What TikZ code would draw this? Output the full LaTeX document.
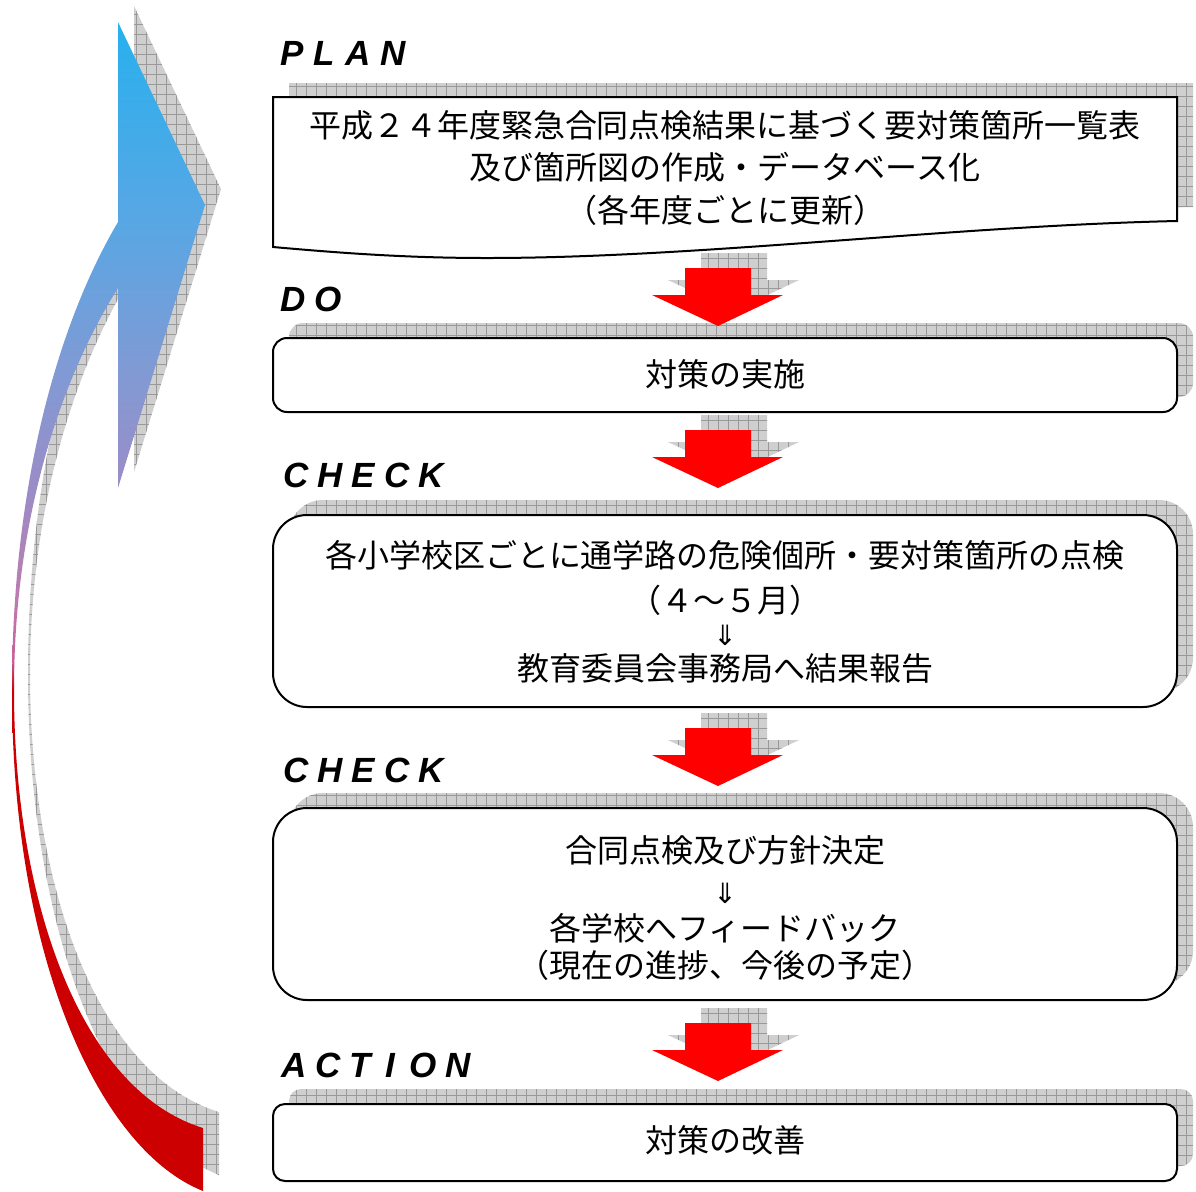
\documentclass[tikz,border=0pt]{standalone}
\usepackage{fontspec}
\newfontfamily\jp{Noto Sans CJK JP}
\newfontfamily\labfont{Liberation Sans}
\newfontfamily\symfont{DejaVu Sans}
\definecolor{arrowred}{HTML}{FF0000}
\definecolor{ca}{HTML}{CC0000}
\definecolor{cb}{HTML}{C8609A}
\definecolor{cc}{HTML}{BC7CB0}
\definecolor{cd}{HTML}{998DC8}
\definecolor{ce}{HTML}{8399D3}
\definecolor{cf}{HTML}{58A7E4}
\definecolor{cg}{HTML}{28B0EE}
\definecolor{gridgray}{HTML}{999999}
\pgfdeclareverticalshading{bigarrowshade}{100bp}{color(0bp)=(ca); color(46.4bp)=(ca); color(47.7bp)=(cb); color(50.3bp)=(cc); color(55.4bp)=(cd); color(59.7bp)=(ce); color(66.5bp)=(cf); color(75bp)=(cg); color(100bp)=(cg)}
\newcommand\lk{\kern4.5pt}
\newcommand\lkw{\kern7pt}
\tikzset{
  shadowfill/.style={fill=gray!38, path picture={\draw[gridgray, line width=0.3pt] (path picture bounding box.south west) grid[step=5pt] (path picture bounding box.north east);}},
  boxline/.style={draw=black, line width=1pt, fill=white},
  jtext/.style={font=\jp\fontsize{16pt}{20pt}\selectfont, inner sep=0pt, anchor=center},
  symtext/.style={font=\symfont\fontsize{14pt}{16pt}\selectfont, inner sep=0pt, anchor=center},
  phase/.style={font=\labfont\bfseries\itshape\fontsize{17.5pt}{20pt}\selectfont, anchor=base west, inner sep=0pt},
  pics/downarr/.style={code={
    \fill[shadowfill] (-17,-15) -- (49,-15) -- (49,12) -- (81,12) -- (16,43) -- (-50,12) -- (-17,12) -- cycle;
    \fill[arrowred] (-33,0) -- (33,0) -- (33,27) -- (65,27) -- (0,58) -- (-66,27) -- (-33,27) -- cycle;
  }}
}
\begin{document}
\begin{tikzpicture}[x=0.5pt,y=-0.5pt]
\useasboundingbox (0,0) rectangle (1196,1191);
\fill[white] (0,0) rectangle (1196,1191);

% ---- big curved cycle arrow: shadow then arrow
\begin{scope}[shift={(16,-16)}]
\fill[shadowfill] (203,1191) .. controls (100,1150) and (12,960) .. (12,690) .. controls (12,480) and (60,320) .. (118,222) -- (118,22) -- (205,205) -- (118,488) -- (118,288) .. controls (60,380) and (14,520) .. (14,690) .. controls (14,900) and (80,1090) .. (203,1128) -- cycle;
\end{scope}
\shade[shading=bigarrowshade] (203,1191) .. controls (100,1150) and (12,960) .. (12,690) .. controls (12,480) and (60,320) .. (118,222) -- (118,22) -- (205,205) -- (118,488) -- (118,288) .. controls (60,380) and (14,520) .. (14,690) .. controls (14,900) and (80,1090) .. (203,1128) -- cycle;

% ---- box shadows
\begin{scope}[shift={(16,-14)}]
\fill[shadowfill] (273,97) -- (1177,97) -- (1177,221) .. controls (950,226) and (700,258) .. (487,258) .. controls (400,258) and (330,252) .. (273,247) -- cycle;
\end{scope}
\begin{scope}[shift={(16,-15)}]
\fill[shadowfill, rounded corners=7pt] (273,338) rectangle (1177,412);
\fill[shadowfill, rounded corners=17pt] (273,515) rectangle (1177,707);
\fill[shadowfill, rounded corners=17pt] (273,808) rectangle (1177,1000);
\fill[shadowfill, rounded corners=6pt] (273,1104) rectangle (1177,1181);
\end{scope}

% ---- boxes
\draw[boxline] (273,97) -- (1177,97) -- (1177,221) .. controls (950,226) and (700,258) .. (487,258) .. controls (400,258) and (330,252) .. (273,247) -- cycle;
\draw[boxline, rounded corners=7pt] (273,338) rectangle (1177,412);
\draw[boxline, rounded corners=17pt] (273,515) rectangle (1177,707);
\draw[boxline, rounded corners=17pt] (273,808) rectangle (1177,1000);
\draw[boxline, rounded corners=6pt] (273,1104) rectangle (1177,1181);

% ---- block arrows between stages
\pic (ar1) at (718,268) {downarr};
\pic (ar2) at (718,430) {downarr};
\pic (ar3) at (718,728) {downarr};
\pic (ar4) at (718,1023) {downarr};

% ---- phase labels
\node[phase] (lplan) at (280,65) {P\kern5pt L\kern5pt A\kern5pt N};
\node[phase] (ldo) at (280,311) {D\lk O};
\node[phase] (lcheck1) at (283,487) {C\lk H\lk E\lk C\lk K};
\node[phase] (lcheck2) at (283,782) {C\lk H\lk E\lk C\lk K};
\node[phase] (laction) at (281,1077) {A\lk C\lk T\lkw I\lkw O\lk N};

% ---- texts
\node[jtext] (p1) at (725,125) {平成２４年度緊急合同点検結果に基づく要対策箇所一覧表};
\node[jtext] (p2) at (725,167) {及び箇所図の作成・データベース化};
\node[jtext] (p3) at (725,210) {（各年度ごとに更新）};
\node[jtext] (d1) at (725,374) {対策の実施};
\node[jtext] (c1) at (725,555) {各小学校区ごとに通学路の危険個所・要対策箇所の点検};
\node[jtext] (c2) at (725,600) {（４～５月）};
\node[symtext] (c3) at (725,635) {⇓};
\node[jtext] (c4) at (725,668) {教育委員会事務局へ結果報告};
\node[jtext] (k1) at (725,850) {合同点検及び方針決定};
\node[symtext] (k2) at (725,893) {⇓};
\node[jtext] (k3) at (725,928) {各学校へフィードバック};
\node[jtext] (k4) at (725,965) {（現在の進捗、今後の予定）};
\node[jtext] (a1) at (725,1140) {対策の改善};
\end{tikzpicture}
\end{document}
